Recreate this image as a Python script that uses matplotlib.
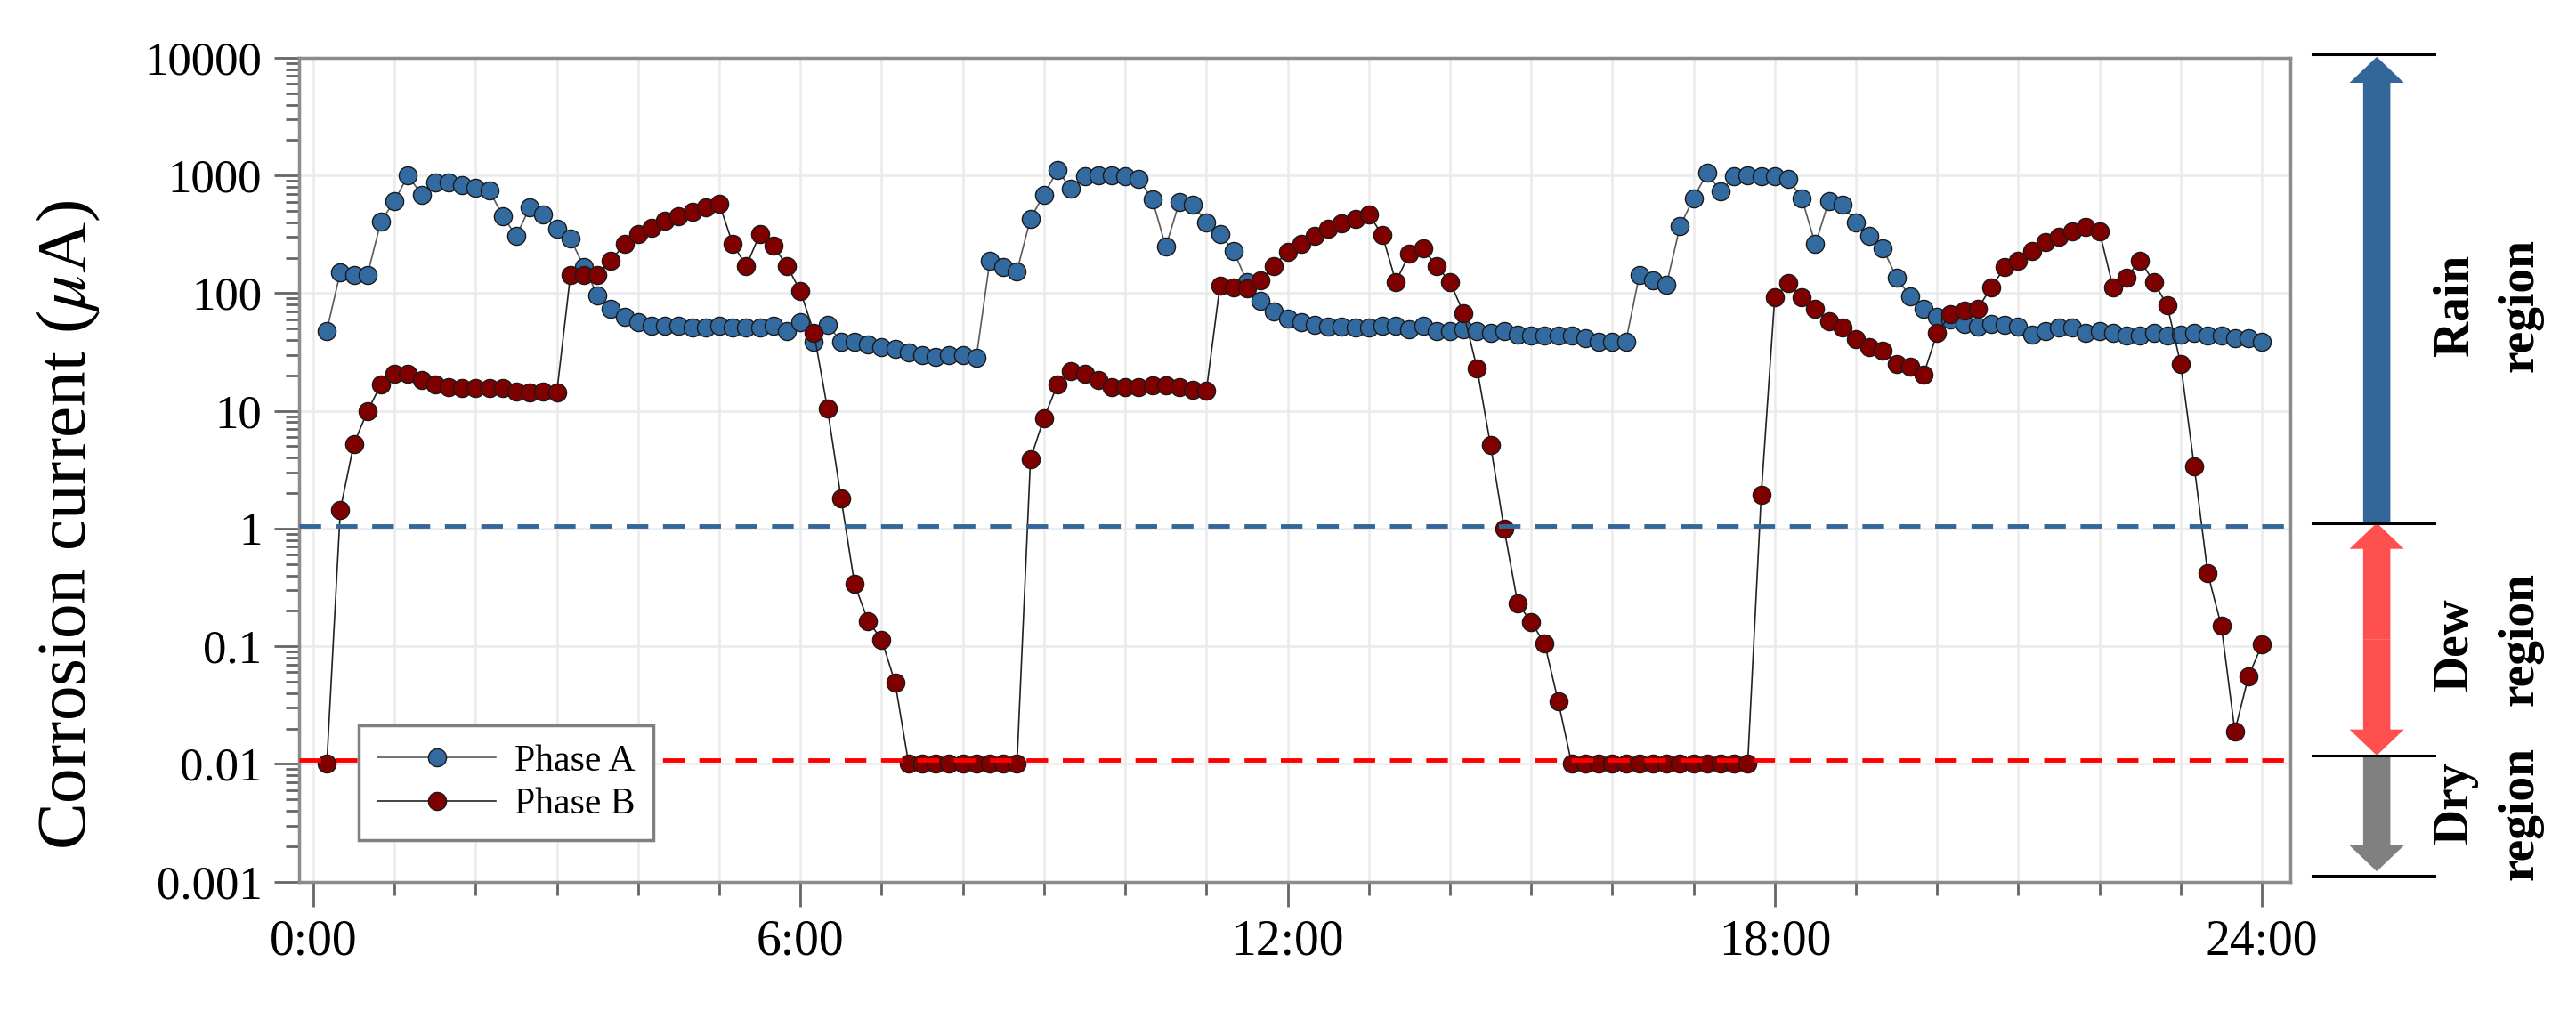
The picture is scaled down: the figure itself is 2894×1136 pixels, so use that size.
import numpy as np
import matplotlib.pyplot as plt
import matplotlib.ticker as mticker
from matplotlib.patches import FancyArrowPatch

plt.rcParams['font.family'] = ['Liberation Serif', 'DejaVu Serif']
plt.rcParams['mathtext.fontset'] = 'stix'

# muestreo cada 10 min durante 24 h
minutes = np.arange(10, 1441, 10)

phase_a = [48, 151, 143, 143, 407, 608, 1000, 690, 870, 870,
           835, 790, 750, 453, 306, 536, 467, 352, 291, 168,
           96, 74, 63, 57, 52.5, 52.5, 52.5, 50.8, 50.8, 52.5,
           50.8, 50.8, 50.8, 52.5, 48, 57, 39, 54, 39, 39,
           37, 35, 33.4, 31.6, 30, 29, 30, 30, 28.5, 190,
           166, 154, 430, 690, 1110, 768, 980, 1000, 1000, 980,
           929, 628, 248, 596, 565, 399, 316, 230, 125, 86,
           70, 61, 57, 53.6, 52, 52, 50.8, 50.8, 52.5, 52.5,
           49.7, 52.5, 48, 48, 49.7, 48, 46, 48, 44.8, 43.4,
           43.4, 43.4, 43.4, 41.2, 39, 39, 39, 143, 129, 118,
           371, 641, 1054, 736, 980, 1000, 980, 980, 929, 641,
           261, 608, 565, 399, 306, 240, 136, 94, 74, 63,
           60, 55, 52, 55, 53.6, 52, 44.8, 48, 50.8, 50.8,
           46, 47.4, 46, 43.4, 43.4, 46, 43.4, 44.8, 46, 43.4,
           43.4, 41.2, 41.2, 39]

phase_b = [0.01, 1.45, 5.25, 9.9, 16.8, 20.7, 20.7, 18.2, 16.8, 15.9,
           15.6, 15.6, 15.6, 15.6, 14.6, 14.4, 14.6, 14.4, 142, 142,
           142, 190, 261, 316, 359, 412, 453, 493, 536, 577,
           261, 171, 316, 253, 171, 104, 46, 10.4, 1.82, 0.337,
           0.164, 0.114, 0.0488, 0.01, 0.01, 0.01, 0.01, 0.01, 0.01, 0.01,
           0.01, 0.01, 3.9, 8.7, 16.8, 21.9, 20.7, 18.2, 15.9, 15.9,
           15.9, 16.4, 16.4, 15.9, 15.2, 14.9, 116, 112, 109, 129,
           171, 224, 261, 306, 352, 390, 430, 467, 313, 125,
           216, 240, 171, 125, 68, 23, 5.1, 1.0, 0.233, 0.161,
           0.105, 0.034, 0.01, 0.01, 0.01, 0.01, 0.01, 0.01, 0.01, 0.01,
           0.01, 0.01, 0.01, 0.01, 0.01, 0.01, 1.92, 93, 121, 93,
           74, 58, 51, 41, 35, 32.3, 25, 23.6, 20.3, 46,
           66, 71, 74, 112, 166, 190, 230, 270, 300, 333,
           366, 333, 112, 136, 190, 125, 79, 25, 3.37, 0.416,
           0.149, 0.019, 0.055, 0.103]

xtick_pos = [0, 6, 12, 18, 24]
xtick_labels = ['0:00', '6:00', '12:00', '18:00', '24:00']
ytick_pos = [1e-3, 1e-2, 1e-1, 1, 10, 100, 1000, 10000]
ytick_labels = ['0.001', '0.01', '0.1', '1', '10', '100', '1000', '10000']

fig = plt.figure(figsize=(28.94, 11.36), dpi=100)
ax = fig.add_axes([0.1161, 0.128, 0.7730, 0.8148])

hours = minutes / 60
ax.plot(hours, phase_a, '-o', color='#5a5a5a', lw=1.2, ms=14.5,
        mfc='#336BA0', mec='#1a1a1a', mew=1.0, label='Phase A', zorder=3)
ax.plot(hours, phase_b, '-o', color='#222222', lw=1.2, ms=14.5,
        mfc='#800000', mec='#1a1a1a', mew=1.0, label='Phase B', zorder=3.1)

# umbrales lluvia / rocío
ax.axhline(1.048, color='#336699', lw=3.5, ls=(0, (5, 3.4)), zorder=4)
ax.axhline(0.0107, color='#FF0000', lw=3.5, ls=(0, (5, 3.4)), zorder=4)

ax.set_yscale('log')
ax.set_ylim(1e-3, 1e4)
ax.set_xlim(-0.175, 24.35)
ax.set_xticks(xtick_pos)
ax.set_xticklabels(xtick_labels)
ax.set_xticks(np.arange(0, 25, 1), minor=True)
ax.set_yticks(ytick_pos)
ax.set_yticklabels(ytick_labels)
ax.yaxis.set_minor_locator(mticker.LogLocator(base=10, subs=np.arange(2, 10), numticks=20))
ax.yaxis.set_minor_formatter(mticker.NullFormatter())

ax.tick_params(which='major', direction='out', length=20, width=2, color='#666666')
ax.tick_params(which='minor', direction='out', length=11, width=2, color='#666666')
ax.tick_params(axis='x', labelsize=40, pad=10)
ax.tick_params(axis='y', labelsize=38, pad=10)

ax.grid(True, axis='y', which='major', color='#ebebeb', lw=1.8, zorder=0)
ax.grid(True, axis='x', which='both', color='#ebebeb', lw=1.8, zorder=0)
ax.set_axisbelow(True)
for s in ax.spines.values():
    s.set_color('#8c8c8c')
    s.set_linewidth(2.5)

leg = ax.legend(loc='lower left', bbox_to_anchor=(0.03, 0.05), borderaxespad=0,
                fontsize=30, frameon=True, fancybox=False, edgecolor='#808080',
                framealpha=1, handlelength=3.2, handletextpad=0.5,
                borderpad=0.5, labelspacing=0.25)
leg.get_frame().set_linewidth(2.5)

fig.text(77 / 2894, 1 - 590 / 1136, r'Corrosion current ($\mu$A)', rotation=90,
         ha='center', va='center', fontsize=57)

# regiones a la derecha
trans = ax.get_yaxis_transform()
for yv in [10700, 1.117, 0.0118, 0.00112]:
    ax.plot([1.0111, 1.0724], [yv, yv], transform=trans, color='black',
            lw=2.2, clip_on=False)

xc = 1.0434
style = 'simple,head_length=21,head_width=44,tail_width=22'


def flecha(y0, y1, color):
    ax.add_patch(FancyArrowPatch((xc, y0), (xc, y1), transform=trans,
                                 arrowstyle=style, mutation_scale=1, color=color,
                                 lw=0, clip_on=False, shrinkA=0, shrinkB=0))


flecha(1.117, 10200, '#336699')
mid = np.sqrt(1.117 * 0.0118)
flecha(mid, 1.117, '#FF5050')
flecha(mid, 0.0118, '#FF5050')
flecha(0.0118, 0.00122, '#808080')

for word, yv, xpos in [('Rain', 79, 1.0827), ('region', 79, 1.1154),
                       ('Dew', 0.103, 1.0827), ('region', 0.115, 1.1154),
                       ('Dry', 0.0046, 1.0827), ('region', 0.0038, 1.1154)]:
    ax.text(xpos, yv, word, transform=trans, rotation=90, ha='center', va='center',
            fontsize=40, fontweight='bold', clip_on=False)

fig.savefig('out.png', dpi=100)
